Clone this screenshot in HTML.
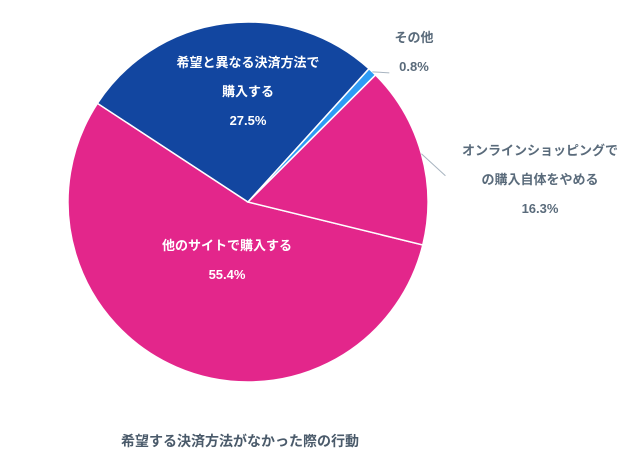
<!DOCTYPE html>
<html><head><meta charset="utf-8">
<style>
body{margin:0;background:#fff;width:642px;height:465px;overflow:hidden;font-family:"Liberation Sans","Noto Sans CJK JP",sans-serif;}
svg text{font-family:"Liberation Sans","Noto Sans CJK JP",sans-serif;font-weight:bold;font-size:13px;}
</style></head>
<body>
<svg id="chart" width="642" height="465" viewBox="0 0 642 465">
<g id="slices"></g>
<g id="labels"></g>
<text x="240" y="446" text-anchor="middle" fill="#4a5a6a" style="font-size:14px">希望する決済方法がなかった際の行動</text>
</svg>
<script>
const categories = ["他のサイトで購入する","希望と異なる決済方法で購入する","その他","オンラインショッピングでの購入自体をやめる"];
const values = [55.4, 27.5, 0.8, 16.3];
const valueLabels = ["55.4%","27.5%","0.8%","16.3%"];
const colors = ["#e3268b","#1246a0","#2d9cf5","#e3268b"];
const cx=248, cy=202, r=180, startDeg=13.8;
const ns="http://www.w3.org/2000/svg";
const total=values.reduce((a,b)=>a+b,0);
const gS=document.getElementById('slices');
function pt(deg,rad){const a=deg*Math.PI/180;return [cx+rad*Math.cos(a),cy+rad*Math.sin(a)];}
let ang=startDeg;
const mids=[];
values.forEach((v,i)=>{
  const sweep=v/total*360;
  const [x1,y1]=pt(ang,r),[x2,y2]=pt(ang+sweep,r);
  const p=document.createElementNS(ns,'path');
  p.setAttribute('d',`M${cx},${cy}L${x1},${y1}A${r},${r} 0 ${sweep>180?1:0} 1 ${x2},${y2}Z`);
  p.setAttribute('fill',colors[i]);
  p.setAttribute('stroke','#fff');
  p.setAttribute('stroke-width','1.5');
  
  
  gS.appendChild(p);
  mids.push(ang+sweep/2);
  ang+=sweep;
});
const gL=document.getElementById('labels');
function txt(x,y,s,fill,name){
  const t=document.createElementNS(ns,'text');
  t.setAttribute('x',x);t.setAttribute('y',y);t.setAttribute('text-anchor','middle');
  t.setAttribute('fill',fill);t.textContent=s;
  
  
  gL.appendChild(t);
}
function line(pts,name){
  const l=document.createElementNS(ns,'polyline');
  l.setAttribute('points',pts.map(p=>p.join(',')).join(' '));
  l.setAttribute('fill','none');l.setAttribute('stroke','#a8b4c0');l.setAttribute('stroke-width','1');
  
  
  gL.appendChild(l);
}
// inside labels
txt(227,250,"他のサイトで購入する","#fff","label-other-site");
txt(227,279,valueLabels[0],"#fff","value-other-site");
txt(248,67,"希望と異なる決済方法で","#fff","label-different-method");
txt(248,96,"購入する","#fff","label-different-method-2");
txt(248,125,valueLabels[1],"#fff","value-different-method");
// outside labels
const e2=pt(mids[2],r);
line([e2,[e2[0]+17,e2[1]+1]],'leader-other');
txt(414,42,"その他","#5a6b7b","label-other");
txt(414,71,valueLabels[2],"#5a6b7b","value-other");
const e3=pt(mids[3],r);
line([e3,[e3[0]+24,e3[1]+22]],'leader-online');
txt(540,155,"オンラインショッピングで","#5a6b7b","label-online");
txt(540,184,"の購入自体をやめる","#5a6b7b","label-online-2");
txt(540,213,valueLabels[3],"#5a6b7b","value-online");
</script>
</body></html>
